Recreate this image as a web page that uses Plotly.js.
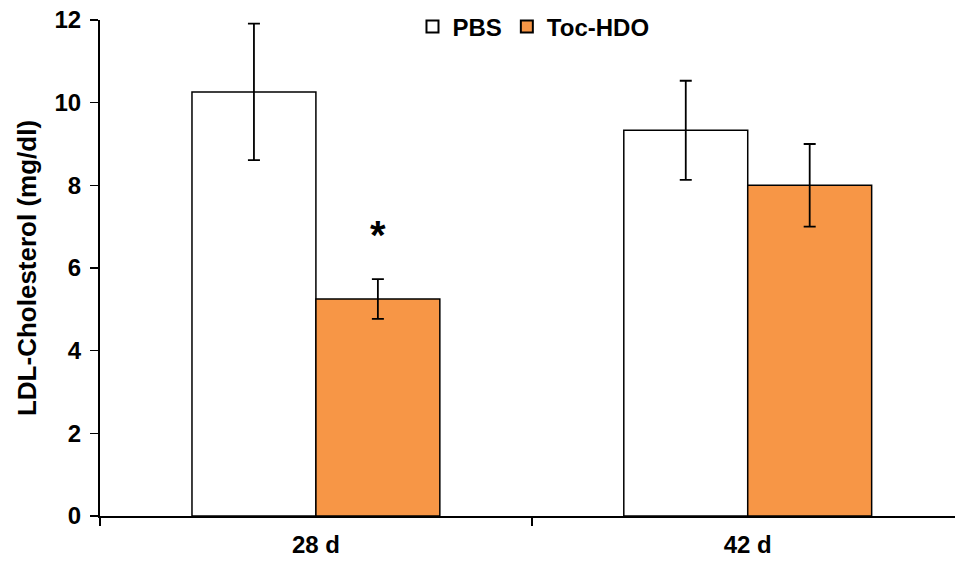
<!DOCTYPE html>
<html>
<head>
<meta charset="utf-8">
<script src="https://cdn.plot.ly/plotly-3.0.1.min.js"></script>
<style>html,body{margin:0;padding:0;background:#fff;}#chart{width:955px;height:562px;}</style>
</head>
<body>
<div id="chart"></div>
<script>
var categories = ["28 d", "42 d"];
var seriesNames = ["PBS", "Toc-HDO"];
var pbsValues = [10.26, 9.33];
var pbsErrors = [1.65, 1.2];
var tocValues = [5.25, 8.0];
var tocErrors = [0.48, 1.0];
var yTickValues = [0, 2, 4, 6, 8, 10, 12];
var yTitle = "LDL-Cholesterol (mg/dl)";
var significanceMark = "*";

var font = "Liberation Sans, Arial, sans-serif";

var traces = [
  {
    type: "bar", name: seriesNames[0], x: categories, y: pbsValues,
    marker: {color: "#ffffff", line: {color: "#000000", width: 1.5}},
    error_y: {type: "data", array: pbsErrors, visible: true, color: "#000000", thickness: 1.8, width: 6}
  },
  {
    type: "bar", name: seriesNames[1], x: categories, y: tocValues,
    marker: {color: "#F79646", line: {color: "#000000", width: 1.5}},
    error_y: {type: "data", array: tocErrors, visible: true, color: "#000000", thickness: 1.8, width: 6}
  }
];

var layout = {
  width: 955, height: 562,
  margin: {l: 100, r: 0, t: 20, b: 46},
  paper_bgcolor: "#ffffff", plot_bgcolor: "#ffffff",
  barmode: "group", bargap: 0.426, bargroupgap: 0,
  font: {family: font, color: "#000000"},
  showlegend: true,
  legend: {
    orientation: "h", x: 0.507, xanchor: "center", y: 0.986, yanchor: "middle",
    font: {family: font, size: 24, color: "#000000", weight: "bold"},
    bgcolor: "rgba(0,0,0,0)", traceorder: "normal", itemsizing: "constant",
    itemwidth: 30
  },
  xaxis: {
    type: "category", range: [-0.5, 1.48],
    showline: true, linecolor: "#000000", linewidth: 2,
    ticks: "outside", tickson: "boundaries", ticklen: 8, tickwidth: 1.5, tickcolor: "#000000",
    tickfont: {family: font, size: 24, color: "#000000", weight: "bold"},
    ticklabelstandoff: 6,
    showgrid: false, zeroline: false, fixedrange: true
  },
  yaxis: {
    range: [0, 12], tickvals: yTickValues,
    showline: true, linecolor: "#000000", linewidth: 2,
    ticks: "outside", ticklen: 8, tickwidth: 1.5, tickcolor: "#000000",
    tickfont: {family: font, size: 24, color: "#000000", weight: "bold"},
    ticklabelstandoff: 4,
    showgrid: false, zeroline: false,
    title: {text: yTitle, font: {family: font, size: 26, color: "#000000", weight: "bold"}, standoff: 10}
  },
  annotations: [
    {
      xref: "x", yref: "y", x: 0.1435, y: 6.8, text: significanceMark, showarrow: false,
      font: {family: font, size: 40, color: "#000000", weight: "bold"}, yanchor: "middle"
    }
  ]
};

Plotly.newPlot("chart", traces, layout, {displayModeBar: false, staticPlot: true});
</script>
</body>
</html>
